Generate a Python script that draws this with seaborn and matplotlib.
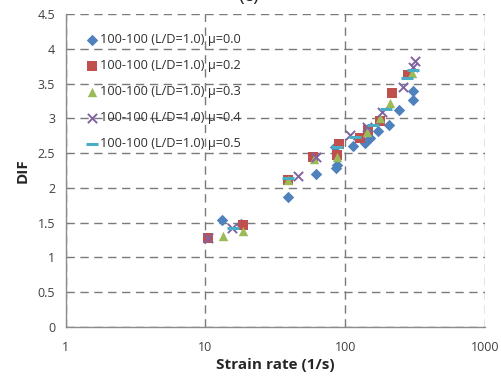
import matplotlib
matplotlib.use("Agg")
import matplotlib.pyplot as plt
import seaborn as sns
import pandas as pd

# --- data ---
x_mu00 = [13.2, 17.9, 38.9, 61.5, 85.6, 87, 84, 113, 138, 150, 173, 205, 243, 304, 304]
y_mu00 = [1.54, 1.48, 1.87, 2.20, 2.28, 2.33, 2.59, 2.60, 2.64, 2.72, 2.82, 2.90, 3.12, 3.26, 3.40]

x_mu02 = [10.4, 18.5, 38.9, 58.6, 87, 91, 127, 145, 177, 218, 281]
y_mu02 = [1.28, 1.47, 2.12, 2.44, 2.47, 2.63, 2.72, 2.83, 2.97, 3.36, 3.62]

x_mu03 = [13.3, 18.5, 38.9, 60, 88, 143, 177, 208, 300]
y_mu03 = [1.31, 1.38, 2.11, 2.41, 2.44, 2.80, 3.00, 3.22, 3.65]

x_mu04 = [10.4, 15.4, 45.6, 61.5, 108, 143, 183, 258, 304, 315]
y_mu04 = [1.28, 1.42, 2.17, 2.44, 2.76, 2.87, 3.09, 3.45, 3.74, 3.83]

x_mu05 = [15.7, 38.9, 87, 117, 157, 197, 275, 304]
y_mu05 = [1.42, 2.14, 2.59, 2.73, 2.90, 3.14, 3.58, 3.69]

labels = ["100-100 (L/D=1.0) \u03bc=0.0", "100-100 (L/D=1.0) \u03bc=0.2",
          "100-100 (L/D=1.0) \u03bc=0.3", "100-100 (L/D=1.0) \u03bc=0.4",
          "100-100 (L/D=1.0) \u03bc=0.5"]
y_ticks = [0, 0.5, 1, 1.5, 2, 2.5, 3, 3.5, 4, 4.5]
y_ticklabels = ["0", "0.5", "1", "1.5", "2", "2.5", "3", "3.5", "4", "4.5"]
x_ticks = [1, 10, 100, 1000]
x_ticklabels = ["1", "10", "100", "1000"]

series = [(x_mu00, y_mu00), (x_mu02, y_mu02), (x_mu03, y_mu03),
          (x_mu04, y_mu04), (x_mu05, y_mu05)]

frames = []
for (xs, ys), lab in zip(series, labels):
    frames.append(pd.DataFrame({"x": xs, "y": ys, "series": lab}))
df = pd.concat(frames, ignore_index=True)

sns.set_style("white")
plt.rcParams['font.family'] = ['Open Sans', 'DejaVu Sans']

colors = ["#4F81BD", "#C0504D", "#9BBB59", "#8064A2", "#4BACC6"]
markers = ["D", "s", "^", "x", "_"]
sizes = [34, 42, 46, 44, 64]

fig = plt.figure(figsize=(5.02, 3.82), dpi=100)
ax = fig.add_axes([0.131, 0.144, 0.835, 0.819])

for lab, c, m, s in zip(labels, colors, markers, sizes):
    sub = df[df["series"] == lab]
    kw = dict(linewidth=0) if m not in ("x", "_") else dict(linewidth=2.2 if m == "_" else 1.4)
    sns.scatterplot(data=sub, x="x", y="y", ax=ax, color=c, marker=m, s=s,
                    label=lab, zorder=3, **kw)

ax.set_xscale("log")
ax.set_xlim(1, 1000)
ax.set_ylim(0, 4.5)
ax.set_yticks(y_ticks)
ax.set_yticklabels(y_ticklabels)
ax.set_xticks(x_ticks)
ax.set_xticklabels(x_ticklabels)
ax.minorticks_off()

ax.grid(True, which="major", linestyle=(0, (6, 4)), color="#7a7a7a", linewidth=1.0)
ax.set_axisbelow(True)
for sp in ["top", "right"]:
    ax.spines[sp].set_visible(False)
for sp in ["left", "bottom"]:
    ax.spines[sp].set_color("#8c8c8c")
    ax.spines[sp].set_linewidth(1.0)

ax.tick_params(axis="both", direction="out", length=4, color="#8c8c8c",
               labelsize=9, labelcolor="#404040", width=1.0)
ax.tick_params(axis="x", pad=6)

ax.set_xlabel("Strain rate (1/s)", fontsize=11, fontweight="bold", labelpad=3)
ax.set_ylabel("DIF", fontsize=11, fontweight="bold", labelpad=6)

leg = ax.legend(loc="upper left", bbox_to_anchor=(0.035, 0.955), frameon=False,
                fontsize=9.2, labelspacing=1.02, handletextpad=0.15,
                handlelength=1.0, borderaxespad=0)
for t in leg.get_texts():
    t.set_color("#303030")

fig.text(0.495, 1.01, "(c)", ha="center", va="center", fontsize=14)

fig.savefig("out.png", dpi=100)
